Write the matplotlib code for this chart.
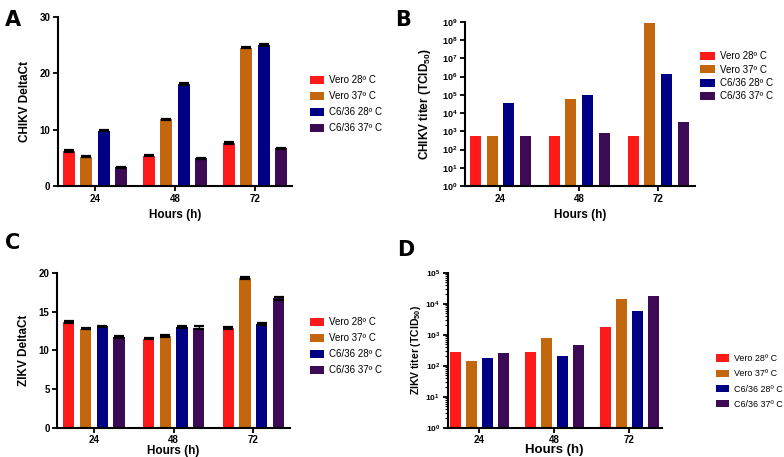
import numpy as np
import matplotlib
matplotlib.use('Agg')
import matplotlib.pyplot as plt
from matplotlib.ticker import LogLocator, NullLocator, LogFormatterMathtext

plt.rcParams['font.family'] = ['Liberation Sans', 'DejaVu Sans']
plt.rcParams['mathtext.fontset'] = 'custom'
plt.rcParams['mathtext.rm'] = 'Liberation Sans:bold'
plt.rcParams['mathtext.bf'] = 'Liberation Sans:bold'

hours = ['24', '48', '72']
series = ['Vero 28º C', 'Vero 37º C', 'C6/36 28º C', 'C6/36 37º C']
colors = ['#FF1A1A', '#C2670E', '#000085', '#3D0A55']

# values per series, one per time point
chikv_ct = [[6.2, 5.4, 7.6], [5.2, 11.8, 24.5], [9.8, 18.1, 25.0], [3.3, 4.9, 6.7]]
chikv_ct_err = [[0.15, 0.12, 0.12], [0.1, 0.1, 0.1], [0.12, 0.15, 0.12], [0.1, 0.1, 0.1]]
chikv_titer = [[560, 560, 560], [560, 6.3e4, 8.5e8], [3.4e4, 1.0e5, 1.35e6], [560, 780, 3200]]
zikv_ct = [[13.7, 11.5, 12.9], [12.8, 11.8, 19.3], [13.1, 13.0, 13.4], [11.7, 12.9, 16.7]]
zikv_ct_err = [[0.12, 0.1, 0.1], [0.1, 0.12, 0.12], [0.1, 0.12, 0.12], [0.15, 0.2, 0.15]]
zikv_titer = [[280, 270, 1770], [141, 800, 1.38e4], [172, 200, 5900], [256, 465, 1.78e4]]

fig = plt.figure(figsize=(7.84, 4.57), dpi=100)


def draw(rect, values, errs, ylabel, log, ylim, yticks, xlim, step, width,
         leg_pos, leg_fs, leg_sp, xlab_fs=8.5, xlab_pad=4, ylab_fs=8.5, ylab_pad=6,
         ytick_fs=7, minor=False):
    ax = fig.add_axes(rect)
    x = np.arange(len(hours))
    for i, (vals, c) in enumerate(zip(values, colors)):
        off = (i - 1.5) * step
        ax.bar(x + off, vals, width=width, color=c, label=series[i],
               bottom=1 if log else 0, zorder=2)
        if errs is not None:
            ax.errorbar(x + off, vals, yerr=errs[i], fmt='none', ecolor='black',
                        elinewidth=1, capsize=3.5, capthick=1.6, zorder=3)
    if log:
        ax.set_yscale('log')
        ax.yaxis.set_major_locator(LogLocator(base=10, numticks=20))
        ax.yaxis.set_major_formatter(LogFormatterMathtext())
        if minor:
            ax.yaxis.set_minor_locator(LogLocator(base=10, subs=np.arange(2, 10), numticks=20))
        else:
            ax.yaxis.set_minor_locator(NullLocator())
    else:
        ax.set_yticks(yticks)
    ax.set_ylim(*ylim)
    ax.set_xlim(*xlim)
    ax.set_xticks(x)
    ax.set_xticklabels(hours)
    for s in ['top', 'right']:
        ax.spines[s].set_visible(False)
    for s in ['left', 'bottom']:
        ax.spines[s].set_linewidth(1.5)
    ax.tick_params(axis='both', width=1.3, length=3.5, pad=2)
    ax.tick_params(axis='x', labelsize=7)
    ax.tick_params(axis='y', labelsize=ytick_fs)
    ax.tick_params(axis='y', which='minor', width=0.8, length=2)
    for lab in ax.get_xticklabels() + ax.get_yticklabels():
        lab.set_fontweight('bold')
    ax.set_xlabel('Hours (h)', fontsize=xlab_fs, fontweight='bold', labelpad=xlab_pad)
    ax.set_ylabel(ylabel, fontsize=ylab_fs, fontweight='bold', labelpad=ylab_pad)
    ax.legend(loc='upper left', bbox_to_anchor=leg_pos, bbox_transform=fig.transFigure,
              frameon=False, fontsize=leg_fs, borderpad=0, borderaxespad=0,
              handlelength=1.5, handleheight=0.9, labelspacing=leg_sp, handletextpad=0.5)
    return ax


draw([0.074, 0.593, 0.298, 0.370], chikv_ct, chikv_ct_err, 'CHIKV DeltaCt', False,
     (0, 30), [0, 10, 20, 30], (-0.46, 2.46), 0.219, 0.15, (0.395, 0.836), 7, 0.62)
draw([0.593, 0.593, 0.293, 0.359], chikv_titer, None, r'CHIKV titer (TCID$_{50}$)', True,
     (1, 1e9), None, (-0.45, 2.46), 0.213, 0.14, (0.893, 0.888), 7, 0.35, ytick_fs=6.5)
draw([0.073, 0.064, 0.297, 0.339], zikv_ct, zikv_ct_err, 'ZIKV DeltaCt', False,
     (0, 20), [0, 5, 10, 15, 20], (-0.46, 2.46), 0.21, 0.14, (0.395, 0.306), 7, 0.62,
     xlab_pad=0)
draw([0.571, 0.064, 0.273, 0.339], zikv_titer, None, r'ZIKV titer (TCID$_{50}$)', True,
     (1, 1e5), None, (-0.42, 2.43), 0.213, 0.147, (0.913, 0.225), 6.4, 0.7,
     xlab_fs=9.5, xlab_pad=-1, ylab_fs=7.5, ylab_pad=2, ytick_fs=6, minor=True)

for letter, xx, yy in [('A', 0.006, 0.978), ('B', 0.504, 0.978), ('C', 0.006, 0.49), ('D', 0.506, 0.475)]:
    fig.text(xx, yy, letter, fontsize=15, fontweight='heavy', family='DejaVu Sans', va='top')

fig.savefig('out.png', dpi=100)
